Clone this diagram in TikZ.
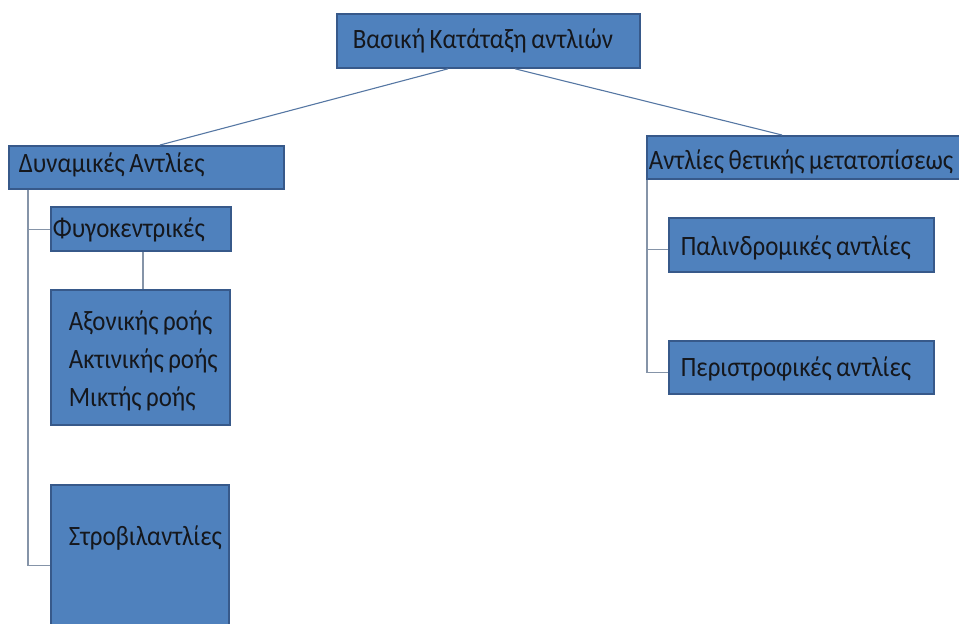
\documentclass[tikz,border=0pt]{standalone}
\usepackage{fontspec}
\setmainfont[FakeStretch=0.89]{Carlito}
\usetikzlibrary{calc}

\definecolor{boxfill}{HTML}{4F81BD}
\definecolor{boxline}{HTML}{37598A}
\definecolor{linkline}{HTML}{5677A3}
\definecolor{trunkline}{HTML}{8594A8}
\definecolor{labeltext}{HTML}{15171C}

% narrower interword spaces for the box labels
\newcommand\tightspaces{\spaceskip=4.5pt plus 1pt minus 1pt\relax}

\tikzset{
  box/.style={draw=boxline, line width=1.8pt, fill=boxfill, text=labeltext,
    inner ysep=0pt, anchor=north west, align=left,
    font=\fontsize{28}{38}\selectfont},
  link/.style={draw=linkline, line width=1.1pt},
  trunk/.style={draw=trunkline, line width=1.1pt},
}

% #1 name, #2 left, #3 right, #4 top, #5 bottom, #6 first baseline,
% #7 left edge of the text, #8 text
\newcommand\pumpbox[8]{%
  \node[box, inner xsep={#7-#2}, text width={#3-#2-2*(#7-#2)},
        text height={#6-#4}, text depth={#5-#6}] (#1) at (#2,#4) {\tightspaces #8};}

\begin{document}
\begin{tikzpicture}[x=1pt, y=-1pt]
  \useasboundingbox (0,0) rectangle (959,624);
  \clip (0,0) rectangle (959,624);

  \pumpbox{top}{336}{639}{13}{67}{48}{352}{\mbox{Βασική Κατάταξη αντλιών}}
  \pumpbox{dyn}{8}{283}{145}{188}{172}{18}{\mbox{Δυναμικές Αντλίες}}
  \pumpbox{fyg}{50}{230}{206}{250}{237}{52}{\mbox{Φυγοκεντρικές}}
  \pumpbox{axial}{50}{229}{289}{424}{330}{68}{\mbox{Αξονικής ροής}\\\mbox{Ακτινικής ροής}\\\mbox{Μικτής ροής}}
  \pumpbox{strov}{50}{228}{484}{640}{545}{68}{\mbox{Στροβιλαντλίες}}
  \pumpbox{thet}{646}{1000}{135}{178}{169}{648}{\rlap{Αντλίες θετικής μετατοπίσεως}}
  \pumpbox{pal}{668}{933}{217}{271}{255}{680}{\mbox{Παλινδρομικές αντλίες}}
  \pumpbox{per}{668}{933}{340}{393}{376}{680}{\mbox{Περιστροφικές αντλίες}}

  % links from the root
  \draw[link] ([xshift=112]top.south west) -- ([xshift=152]dyn.north west);
  \draw[link] ([xshift=179]top.south west) -- ([xshift=136]thet.north west);

  % dynamic pumps
  \draw[trunk] ([xshift=20]dyn.south west) |- ([yshift=-1]fyg.west);
  \draw[trunk] ([xshift=20]dyn.south west) |- ([yshift=-3]strov.west);
  \draw[trunk] ([xshift=93]fyg.south west) -- ([xshift=93]axial.north west);

  % positive displacement pumps
  \draw[trunk] ([xshift=1]thet.south west) |- ([yshift=-5]pal.west);
  \draw[trunk] ([xshift=1]thet.south west) |- ([yshift=-5.5]per.west);
\end{tikzpicture}
\end{document}
